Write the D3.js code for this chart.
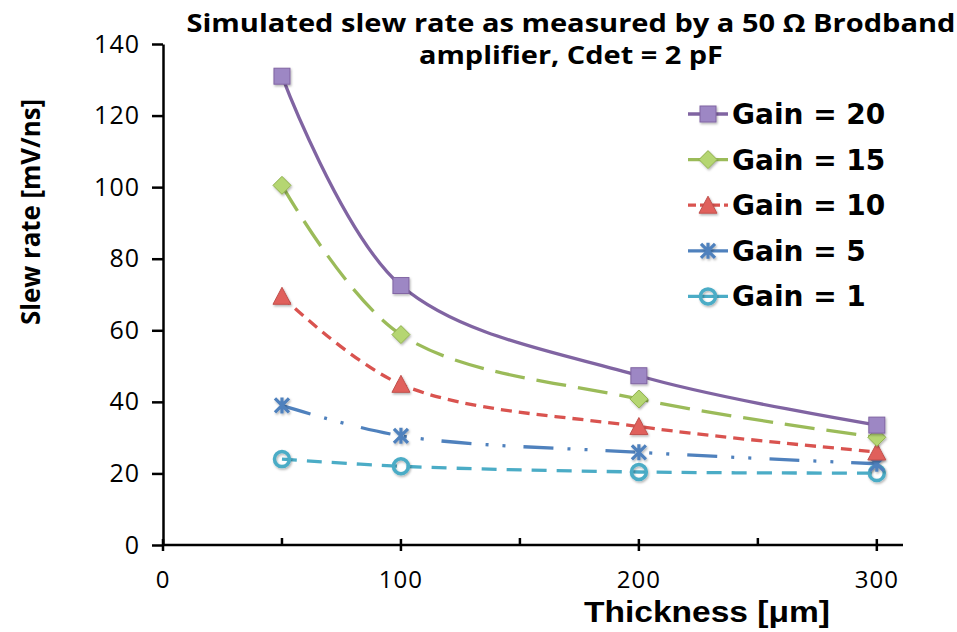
<!DOCTYPE html>
<html>
<head>
<meta charset="utf-8">
<script src="https://cdn.jsdelivr.net/npm/d3@7"></script>
<style>
  html, body { margin: 0; padding: 0; background: #fff; }
  svg { display: block; }
</style>
</head>
<body>
<svg id="chart" width="957" height="632"></svg>
<script>
// Thickness values (µm) shared by every series
const thickness = [50, 100, 200, 300];

// Slew rate [mV/ns] per amplifier gain
const gain20 = [131, 72.5, 47.3, 33.5];
const gain15 = [100.5, 58.8, 40.8, 30.1];
const gain10 = [69.5, 44.9, 33.1, 26.0];
const gain5  = [39.0, 30.5, 25.9, 22.7];
const gain1  = [24.0, 22.0, 20.4, 20.1];

const seriesNames = ["Gain = 20", "Gain = 15", "Gain = 10", "Gain = 5", "Gain = 1"];
const xTicks = [0, 100, 200, 300];
const xMinorTicks = [50, 150, 250];
const yTicks = [0, 20, 40, 60, 80, 100, 120, 140];

const titleLines = ["Simulated slew rate as measured by a 50 \u03A9 Brodband", "amplifier, Cdet = 2 pF"];

const series = [
  { name: seriesNames[0], values: gain20, color: "#8064A2", fill: "#9d87c4", dash: null, marker: "square" },
  { name: seriesNames[1], values: gain15, color: "#9BBB59", fill: "#b5d672", dash: "30,12", marker: "diamond" },
  { name: seriesNames[2], values: gain10, color: "#D9534F", fill: "#e0605b", dash: "11,7", marker: "triangle" },
  { name: seriesNames[3], values: gain5,  color: "#4F81BD", fill: "#4F81BD", dash: "30,14,3,14,3,18", marker: "star" },
  { name: seriesNames[4], values: gain1,  color: "#4BACC6", fill: "none", dash: "15,10", marker: "circle" }
];

const svg = d3.select("#chart");
const margin = { left: 163, top: 44, right: 54, bottom: 87 };
const W = 957, H = 632;

const x = d3.scaleLinear().domain([0, 311]).range([margin.left, W - margin.right]);
const y = d3.scaleLinear().domain([0, 140]).range([H - margin.bottom, margin.top]);

// soft shadow under markers
const defs = svg.append("defs");
const f = defs.append("filter").attr("id", "shadow").attr("x", "-50%").attr("y", "-50%").attr("width", "200%").attr("height", "200%");
f.append("feDropShadow").attr("dx", 1).attr("dy", 1.5).attr("stdDeviation", 1.2).attr("flood-color", "#000").attr("flood-opacity", 0.3);

// Title
const titleWidths = [769, 304];
svg.append("g").selectAll("text").data(titleLines).join("text")
  .attr("x", 571).attr("y", (d, i) => 32 + i * 32)
  .attr("text-anchor", "middle")
  .attr("font-family", "'Open Sans', sans-serif")
  .attr("font-weight", "bold")
  .attr("font-size", 25)
  .attr("textLength", (d, i) => titleWidths[i])
  .attr("lengthAdjust", "spacingAndGlyphs")
  .attr("fill", "#000")
  .text(d => d);

// Y axis
const yAxis = svg.append("g").attr("transform", `translate(${margin.left},0)`)
  .call(d3.axisLeft(y).tickValues(yTicks).tickSize(11).tickPadding(12).tickSizeOuter(0));
yAxis.select(".domain").attr("stroke", "#000").attr("stroke-width", 2.5);
yAxis.selectAll(".tick line").attr("stroke", "#000").attr("stroke-width", 2.5);
yAxis.selectAll(".tick text").attr("font-family", "'Open Sans', sans-serif").attr("font-size", 25)
  .attr("letter-spacing", 1).attr("fill", "#000");

// X axis: major ticks cross the axis, minor ticks sit above it
const xg = svg.append("g").attr("transform", `translate(0,${y(0)})`);
xg.append("line").attr("x1", x(0) - 1).attr("x2", x.range()[1]).attr("stroke", "#000").attr("stroke-width", 2.5);
xg.selectAll("line.major").data(xTicks).join("line").attr("class", "major")
  .attr("x1", d => x(d)).attr("x2", d => x(d)).attr("y1", -6).attr("y2", 6)
  .attr("stroke", "#000").attr("stroke-width", 2.5);
xg.selectAll("line.minor").data(xMinorTicks).join("line").attr("class", "minor")
  .attr("x1", d => x(d)).attr("x2", d => x(d)).attr("y1", -7).attr("y2", 0)
  .attr("stroke", "#000").attr("stroke-width", 2.5);
xg.selectAll("text").data(xTicks).join("text")
  .attr("x", d => x(d)).attr("y", 43)
  .attr("text-anchor", "middle")
  .attr("font-family", "'Open Sans', sans-serif").attr("font-size", 24)
  .attr("letter-spacing", 1).attr("fill", "#000")
  .text(d => d);

// Axis titles
svg.append("text")
  .attr("transform", `translate(40,${212}) rotate(-90)`)
  .attr("text-anchor", "middle")
  .attr("font-family", "'Open Sans', sans-serif").attr("font-weight", "bold").attr("font-size", 27)
  .attr("textLength", 226).attr("lengthAdjust", "spacingAndGlyphs")
  .text("Slew rate [mV/ns]");
svg.append("text")
  .attr("x", 707).attr("y", 622)
  .attr("text-anchor", "middle")
  .attr("font-family", "'Liberation Sans', sans-serif").attr("font-weight", "bold").attr("font-size", 30)
  .attr("textLength", 246).attr("lengthAdjust", "spacingAndGlyphs")
  .text("Thickness [\u03BCm]");

// Marker shapes
function drawMarker(g, s) {
  const r = 8;
  if (s.marker === "square") {
    g.append("rect").attr("x", -r).attr("y", -r).attr("width", 2 * r).attr("height", 2 * r)
      .attr("fill", s.fill).attr("stroke", s.color).attr("stroke-width", 1);
  } else if (s.marker === "diamond") {
    g.append("path").attr("d", `M0,${-r - 1}L${r + 1},0L0,${r + 1}L${-r - 1},0Z`)
      .attr("fill", s.fill).attr("stroke", "#8fb04d").attr("stroke-width", 1);
  } else if (s.marker === "triangle") {
    g.append("path").attr("d", `M0,${-r - 1}L${r + 1},${r}L${-r - 1},${r}Z`)
      .attr("fill", s.fill).attr("stroke", "#c0504d").attr("stroke-width", 1);
  } else if (s.marker === "star") {
    const a = 7;
    g.append("path")
      .attr("d", `M${-a},${-a}L${a},${a}M${-a},${a}L${a},${-a}M0,${-a - 1}L0,${a + 1}`)
      .attr("stroke", s.color).attr("stroke-width", 3.2).attr("fill", "none");
  } else if (s.marker === "circle") {
    g.append("circle").attr("r", 7.5).attr("fill", "none").attr("stroke", s.color).attr("stroke-width", 3.5);
  }
}

const line = d3.line()
  .x(d => x(d[0])).y(d => y(d[1]))
  .curve(d3.curveCatmullRom.alpha(0.5));

const plot = svg.append("g");
// draw lower series first so Gain = 20 sits on top
series.slice().reverse().forEach(s => {
  const pts = thickness.map((t, i) => [t, s.values[i]]);
  plot.append("path").datum(pts)
    .attr("d", line)
    .attr("fill", "none")
    .attr("stroke", s.color)
    .attr("stroke-width", 3.3)
    .attr("stroke-dasharray", s.dash);
  pts.forEach(p => {
    const g = plot.append("g").attr("transform", `translate(${x(p[0])},${y(p[1])})`).attr("filter", "url(#shadow)");
    drawMarker(g, s);
  });
});

// Legend
const legend = svg.append("g");
series.forEach((s, i) => {
  const cy = 114 + i * 45.6;
  const g = legend.append("g").attr("transform", `translate(0,${cy})`);
  g.append("line").attr("x1", 688).attr("x2", 728).attr("y1", 0).attr("y2", 0)
    .attr("stroke", s.color).attr("stroke-width", 3.3)
    .attr("stroke-dasharray", s.marker === "triangle" ? "8,4" : null);
  const m = g.append("g").attr("transform", "translate(708,0)").attr("filter", "url(#shadow)");
  drawMarker(m, s);
  g.append("text").attr("x", 732).attr("y", 10)
    .attr("font-family", "'DejaVu Sans', sans-serif").attr("font-weight", "bold").attr("font-size", 28)
    .attr("fill", "#000")
    .text(s.name);
});
</script>
</body>
</html>
